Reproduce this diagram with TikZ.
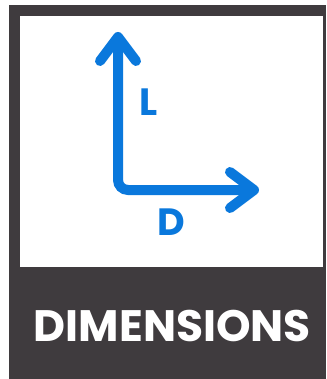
\documentclass[tikz,border=0pt]{standalone}
\usepackage{fontspec}
\setsansfont{Poppins}
\usetikzlibrary{arrows.meta, positioning}
\definecolor{cdark}{HTML}{3F3B3E}
\definecolor{cblue}{HTML}{0A78DC}
\tikzset{
  every picture/.style={font=\sffamily\bfseries},
  panel/.style={fill=#1, draw=none, inner sep=0pt, anchor=north west},
  axis/.style={draw=cblue, line width=10pt, line cap=round, rounded corners=10pt,
    {Straight Barb[length=24pt, width=36pt, round]}-{Straight Barb[length=24pt, width=36pt, round]}},
  axlabel/.style={text=cblue, font=\sffamily\bfseries\fontsize{38}{38}\selectfont, inner sep=0pt},
  caption/.style={text=white, font=\sffamily\bfseries\fontsize{44}{44}\selectfont, inner sep=0pt},
}

\begin{document}
\begin{tikzpicture}[x=1pt, y=-1pt]
  \useasboundingbox (0,0) rectangle (326,379);
  \node[panel=cdark, minimum width=317pt, minimum height=374pt] (frame) at (9,5) {};
  \node[panel=white, minimum width=303pt, minimum height=251pt] (board) at (19.5,16) {};
  % the two dimensions share one rounded corner
  \coordinate (corner) at (118,190);
  \coordinate (ltip) at (118,32);
  \coordinate (dtip) at (259,190);
  \draw[axis] (ltip) -- (corner) -- (dtip);
  \node[axlabel] (lname) at (149,102) {L};
  \node[axlabel] (dname) at (171,222) {D};
  \node[caption] (title) at (172.5,326) {DIMENSIONS};
\end{tikzpicture}
\end{document}
